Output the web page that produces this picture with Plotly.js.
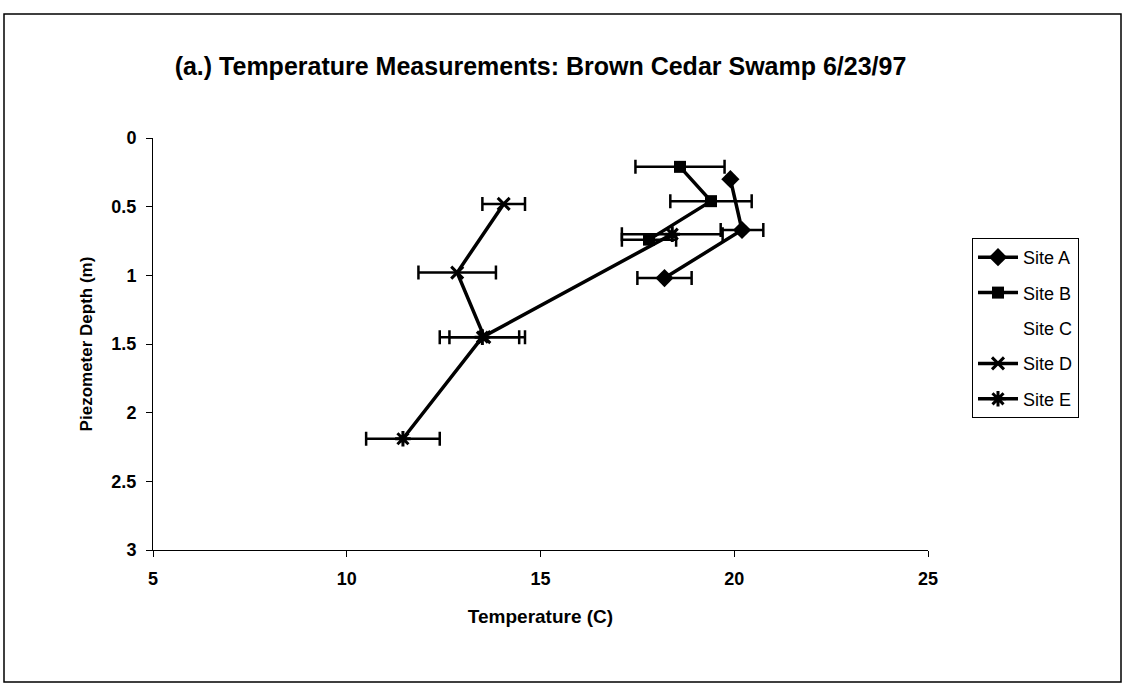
<!DOCTYPE html>
<html>
<head>
<meta charset="utf-8">
<script src="https://cdn.plot.ly/plotly-3.0.1.min.js"></script>
<style>html,body{margin:0;padding:0;background:#fff;}#chart{width:1126px;height:693px;}</style>
</head>
<body>
<div id="chart"></div>
<script>
// Data
const siteNames = ["Site A", "Site B", "Site C", "Site D", "Site E"];
const siteA_temp = [19.9, 20.2, 18.2];
const siteA_depth = [0.30, 0.67, 1.02];
const siteA_err = [0, 0.55, 0.7];
const siteB_temp = [18.6, 19.4, 17.8];
const siteB_depth = [0.21, 0.46, 0.74];
const siteB_err = [1.15, 1.05, 0.7];
const siteC_temp = [null];   // no data for Site C
const siteC_depth = [null];
const siteD_temp = [14.05, 12.85, 13.55];
const siteD_depth = [0.48, 0.98, 1.45];
const siteD_err = [0.55, 1.0, 0.9];
const siteE_temp = [18.4, 13.5, 11.45];
const siteE_depth = [0.70, 1.45, 2.19];
const siteE_err = [1.3, 1.1, 0.95];
const xTicks = [5, 10, 15, 20, 25];
const yTicks = [0, 0.5, 1, 1.5, 2, 2.5, 3];

const FONT = "Liberation Sans, Arial, Helvetica, sans-serif";

function errBars(arr) {
  return {type: "data", array: arr, visible: true, color: "#000", thickness: 2.5, width: 7};
}
function site(name, x, y, err, symbol, size, group) {
  const t = {
    type: "scatter", mode: "lines+markers", name: name, x: x, y: y,
    legendgroup: group,
    line: {color: "#000", width: 3.5},
    marker: {symbol: symbol, size: size, color: "#000", line: {color: "#000", width: (symbol.indexOf("open") >= 0 ? 3 : 0)}},
    cliponaxis: false
  };
  if (err) t.error_x = errBars(err);
  return t;
}

const traces = [
  site(siteNames[0], siteA_temp, siteA_depth, siteA_err, "diamond", 14, "a"),
  site(siteNames[1], siteB_temp, siteB_depth, siteB_err, "square", 12, "b"),
  {type: "scatter", mode: "none", name: siteNames[2], x: siteC_temp, y: siteC_depth, legendgroup: "c", showlegend: true},
  site(siteNames[3], siteD_temp, siteD_depth, siteD_err, "x-thin-open", 12, "d"),
  site(siteNames[4], siteE_temp, siteE_depth, siteE_err, "asterisk-open", 13, "e")
];

const layout = {
  width: 1126, height: 693,
  paper_bgcolor: "#fff", plot_bgcolor: "#fff",
  margin: {l: 153, r: 198, t: 138, b: 143},
  font: {family: FONT, color: "#000"},
  title: {
    text: "(a.) Temperature Measurements: Brown Cedar Swamp 6/23/97",
    font: {family: FONT, size: 25, weight: "bold", color: "#000"},
    x: 0.5, xref: "paper", xanchor: "center",
    y: 1 - 66 / 693, yref: "container", yanchor: "middle"
  },
  xaxis: {
    range: [5, 25], tickvals: xTicks, ticktext: xTicks.map(String),
    showgrid: false, zeroline: false, showline: true, linecolor: "#000", linewidth: 1,
    ticks: "outside", ticklen: 6, tickcolor: "#000", ticklabelstandoff: 6,
    tickfont: {family: FONT, size: 18, weight: "bold", color: "#000"},
    title: {text: "Temperature (C)", font: {family: FONT, size: 19, weight: "bold", color: "#000"}, standoff: 22}
  },
  yaxis: {
    range: [3, 0], tickvals: yTicks, ticktext: yTicks.map(String),
    showgrid: false, zeroline: false, showline: true, linecolor: "#000", linewidth: 1,
    ticks: "outside", ticklen: 6, tickcolor: "#000", ticklabelstandoff: 6,
    tickfont: {family: FONT, size: 18, weight: "bold", color: "#000"},
    title: {text: "Piezometer Depth (m)", font: {family: FONT, size: 17, weight: "bold", color: "#000"}, standoff: 14}
  },
  showlegend: true,
  legend: {
    x: (972 - 153) / 775, xanchor: "left",
    y: (550 - 238) / 412, yanchor: "top",
    bordercolor: "#000", borderwidth: 1, bgcolor: "#fff",
    font: {family: FONT, size: 18, color: "#000"},
    traceorder: "grouped", tracegroupgap: 9,
    itemwidth: 40
  },
  shapes: [
    {type: "rect", xref: "paper", yref: "paper",
     x0: (4 - 153) / 775, x1: (1121 - 153) / 775,
     y0: (550 - 682) / 412, y1: (550 - 14) / 412,
     line: {color: "#000", width: 1.5}, fillcolor: "rgba(0,0,0,0)", layer: "below"}
  ]
};

Plotly.newPlot("chart", traces, layout, {displayModeBar: false, staticPlot: true});
</script>
</body>
</html>
